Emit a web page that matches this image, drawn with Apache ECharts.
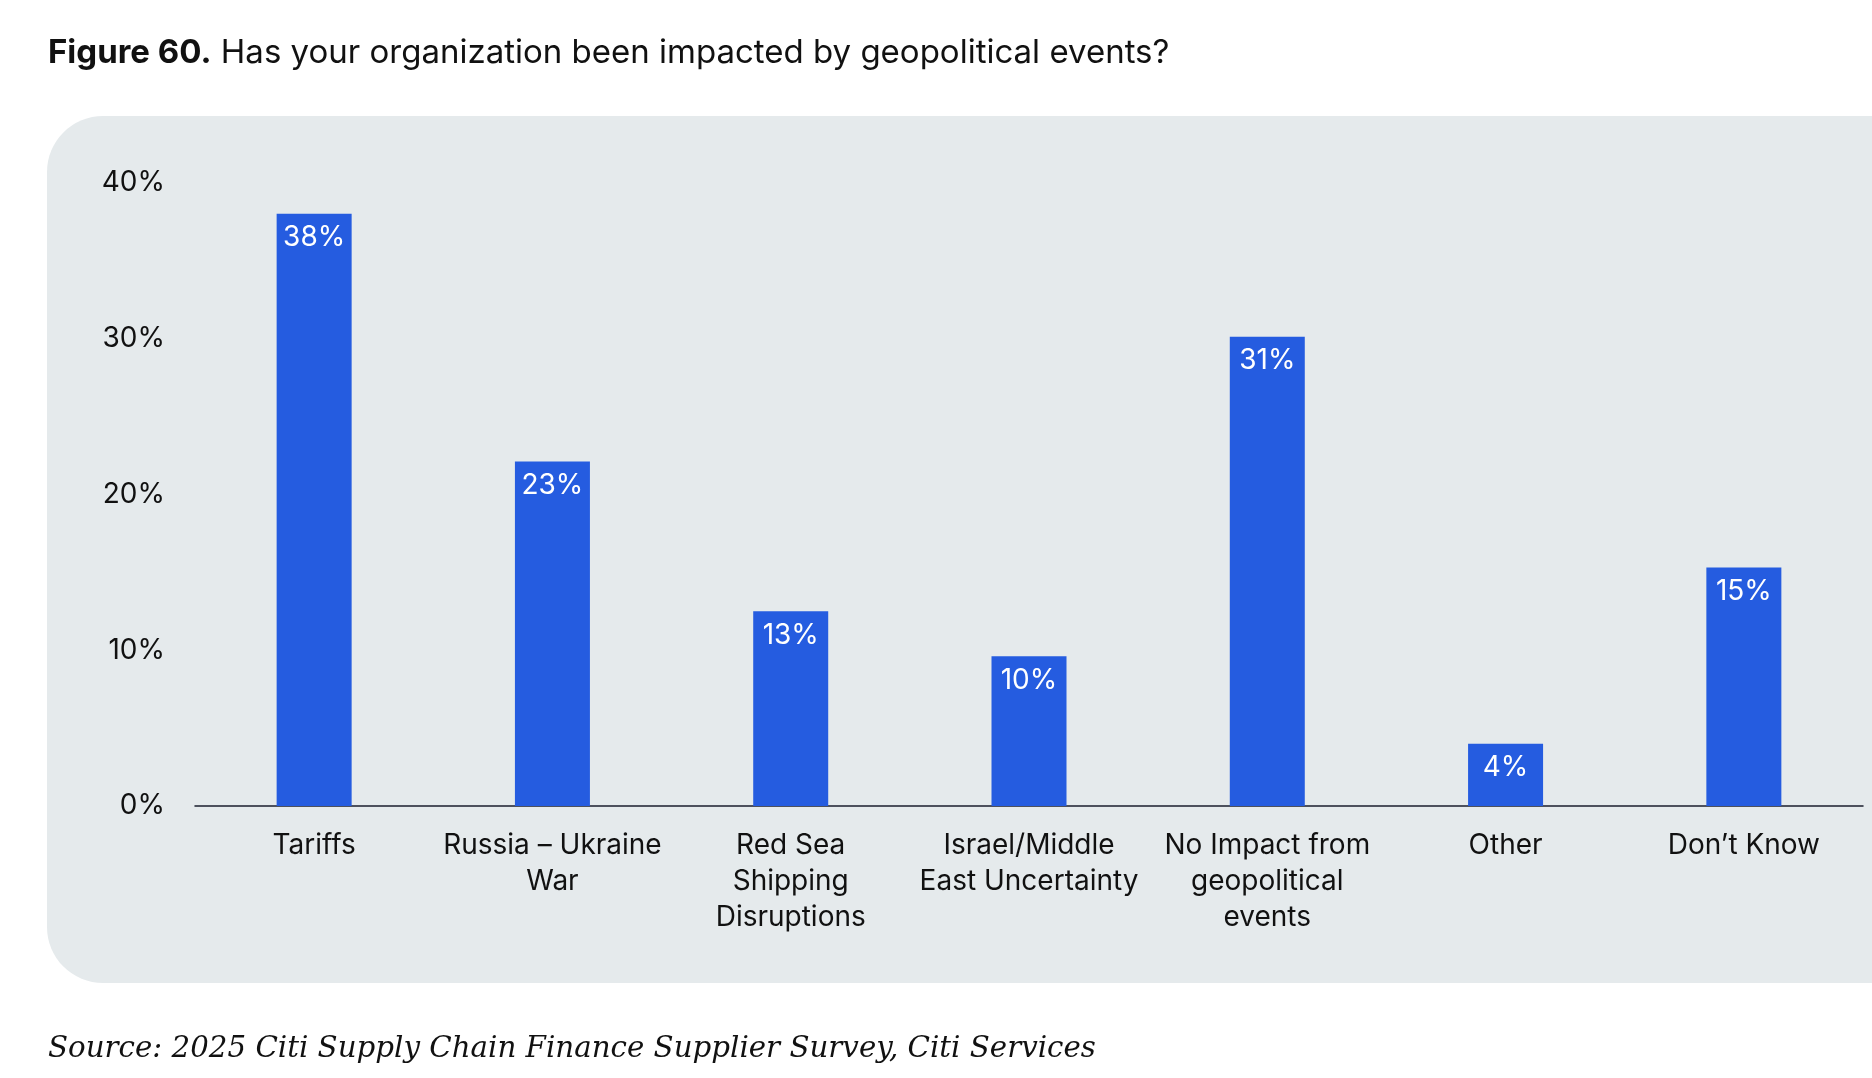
<!DOCTYPE html>
<html>
<head>
<meta charset="utf-8">
<script src="https://cdn.jsdelivr.net/npm/echarts@6/dist/echarts.min.js"></script>
<style>
  html, body { margin: 0; padding: 0; background: #fff; }
  #chart { width: 1872px; height: 1078px; }
</style>
</head>
<body>
<div id="chart"></div>
<script>
// data
var categories = [
  'Tariffs',
  'Russia – Ukraine\nWar',
  'Red Sea\nShipping\nDisruptions',
  'Israel/Middle\nEast Uncertainty',
  'No Impact from\ngeopolitical\nevents',
  'Other',
  'Don’t Know'
];
var values = [38, 22.1, 12.5, 9.6, 30.1, 4, 15.3];
var valueLabels = ['38%', '23%', '13%', '10%', '31%', '4%', '15%'];
var yTicks = [0, 10, 20, 30, 40];

var font = 'Inter, "Noto Sans", sans-serif';

var myChart = echarts.init(document.getElementById('chart'));
var option = {
  backgroundColor: '#fff',
  animation: false,
  title: [
    {
      left: 48, top: 37, padding: 0,
      text: '{b|Figure 60.} Has your organization been impacted by geopolitical events?',
      textStyle: {
        fontFamily: font, fontSize: 33, color: '#111', fontWeight: 400,
        rich: { b: { fontFamily: font, fontSize: 33, fontWeight: 700, color: '#111' } }
      }
    },
    {
      left: 48, top: 1035, padding: 0,
      text: 'Source: 2025 Citi Supply Chain Finance Supplier Survey, Citi Services',
      textStyle: { fontFamily: '"DejaVu Serif", serif', fontStyle: 'italic', fontWeight: 400, fontSize: 29.3, color: '#111' }
    }
  ],
  graphic: [
    {
      type: 'rect', z: -10,
      shape: { x: 47, y: 116, width: 1900, height: 867, r: [56, 0, 0, 56] },
      style: { fill: '#e5eaec' }
    }
  ],
  grid: { left: 195, right: 9, top: 182.5, bottom: 272, containLabel: false },
  xAxis: {
    type: 'category',
    data: categories,
    axisTick: { show: false },
    axisLine: { show: true, lineStyle: { color: '#1b1f2e', width: 1.5 } },
    axisLabel: {
      interval: 0, margin: 22, color: '#111',
      fontFamily: font, fontSize: 28, lineHeight: 36, align: 'center'
    }
  },
  yAxis: {
    type: 'value',
    min: yTicks[0], max: yTicks[yTicks.length - 1], interval: 10,
    axisLine: { show: false },
    axisTick: { show: false },
    splitLine: { show: false },
    axisLabel: {
      margin: 30, color: '#111', fontFamily: font, fontSize: 28,
      formatter: '{value}%'
    }
  },
  series: [
    {
      type: 'bar',
      data: values,
      barWidth: 75,
      itemStyle: { color: '#255ce0' },
      label: {
        show: true, position: 'insideTop', distance: 10,
        color: '#fff', fontFamily: font, fontSize: 28,
        formatter: function (p) { return valueLabels[p.dataIndex]; }
      }
    }
  ]
};

myChart.setOption(option);
</script>
</body>
</html>
